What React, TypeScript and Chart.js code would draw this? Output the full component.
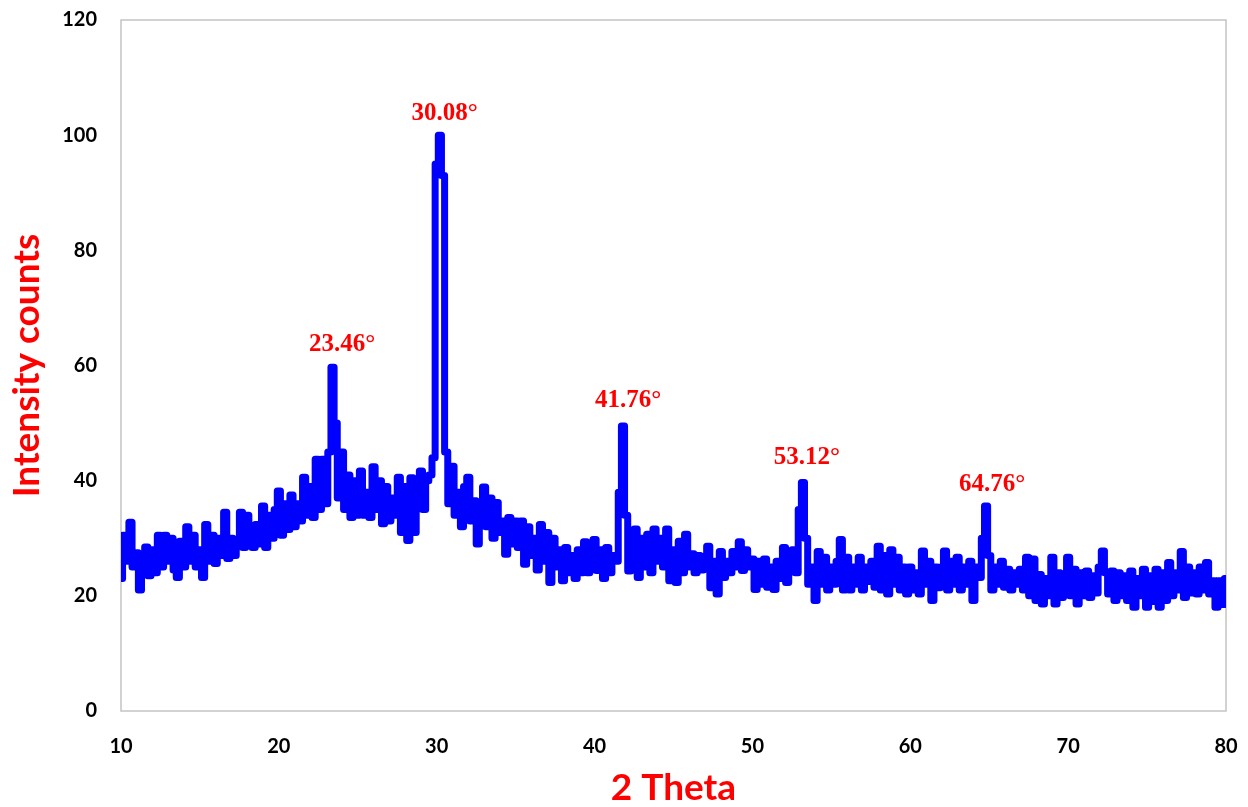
import { useEffect, useRef } from "react";
import { Chart, registerables } from "chart.js";

Chart.register(...registerables);

// 2-theta sampling of the series below
const X_START = 10;
const X_STEP = 0.2;

// Intensity counts, 10.0 .. 19.8
const seg10to20 = [
  23, 30.5, 26, 32.8, 25, 27.5, 21, 26, 28.5, 23.5,
  28, 24, 30.5, 25, 30.5, 26, 30, 24.5, 23.2, 29.5,
  25, 32, 26, 30.5, 25, 28, 23.2, 32.4, 26, 30.5,
  25.6, 30, 27, 34.5, 26.5, 30, 27, 29, 34.5, 28.4,
  34, 29, 28.4, 32.4, 29, 35.6, 28.4, 34, 30, 35,
];
// 20.0 .. 29.8
const seg20to30 = [
  38.2, 30.5, 36, 31.5, 37.5, 32, 36, 33, 40.6, 34,
  39, 33.6, 43.7, 35, 43.7, 36, 45, 59.7, 50, 37,
  45, 35, 41, 33.6, 40, 34, 41.7, 34, 38, 33.6,
  42.4, 35, 40, 32.5, 39, 33, 37, 34, 40.6, 31,
  39, 29.6, 40.5, 31, 37, 41.7, 35, 40, 41, 44,
];
// 30.0 .. 39.8
const seg30to40 = [
  95, 100, 93, 45, 36, 42.5, 34, 38, 32, 39,
  40.6, 33, 36.5, 29, 34, 38.9, 32, 37, 30, 36.2,
  31, 33, 27.2, 33.6, 29, 33, 28.4, 33, 25.5, 32,
  27, 30, 24.5, 32.4, 26, 31, 22.3, 30, 25, 28,
  22.6, 28.4, 24, 27, 23, 28, 24, 29.4, 24, 27,
];
// 40.0 .. 49.8
const seg40to50 = [
  29.8, 24.4, 28, 23, 28.4, 24, 27, 26, 38, 49.5,
  34, 24.3, 28, 31.6, 23.2, 30, 25, 30.7, 24, 31.6,
  26, 30, 25, 31.6, 22.6, 28, 22.3, 29.5, 24, 30.7,
  25, 27.3, 24, 27, 24.5, 26, 28.6, 21.4, 26, 20.3,
  27.7, 23.2, 26, 24, 27.7, 25, 29.4, 24.4, 28, 25,
];
// 50.0 .. 59.8
const seg50to60 = [
  26.4, 21.1, 26, 22, 26.4, 21.5, 25, 21.1, 26, 23,
  28.4, 22.3, 26, 28, 24, 35, 39.7, 30, 22, 25,
  19.2, 27.7, 22, 26.7, 21, 25, 22, 26, 29.8, 21,
  26.7, 21, 25, 22, 26.7, 21, 25, 22.5, 26, 21.5,
  28.6, 21, 27, 20.3, 28, 22, 26.7, 21, 25, 20.3,
];
// 60.0 .. 69.8
const seg60to70 = [
  25, 21, 24, 20.3, 27.8, 22, 26, 19.2, 25, 21.4,
  25, 27.8, 21, 26, 22, 26.7, 21, 25, 22, 26,
  19.2, 25, 23.2, 30, 35.6, 27, 21, 25, 22, 26,
  21.5, 24.6, 21, 24, 22, 24.6, 21, 26.7, 20, 26.4,
  19.2, 23.7, 18.6, 23, 20, 26.7, 18.6, 24, 19.7, 22,
];
// 70.0 .. 80.0
const seg70to80 = [
  26.7, 20, 24.6, 18.6, 24, 20, 24.3, 19.7, 23.5, 20.5,
  25, 27.8, 24, 20.3, 24.3, 19.2, 24, 20, 23.5, 19.2,
  24.3, 18, 23, 20, 24.6, 18, 23.5, 19, 24.6, 18,
  24, 19.2, 25.8, 20, 24, 21, 27.7, 19.7, 25, 20.5,
  24, 20.3, 25, 21, 25.8, 20.3, 22.6, 18, 22.6, 18.5,
  23,
];

const X_MIN = 10;
const X_MAX = 80;
const X_TICK_STEP = 10;
const Y_MIN = 0;
const Y_MAX = 120;
const Y_TICK_STEP = 20;

const PEAK_LABELS = ["23.46°", "30.08°", "41.76°", "53.12°", "64.76°"];
const PEAK_LABEL_X = [24.0, 30.5, 42.12, 53.45, 65.18];
const PEAK_LABEL_Y = [63.7, 103.8, 53.9, 44.0, 39.3];

const X_TITLE = "2 Theta";
const Y_TITLE = "Intensity counts";

export default function App() {
  const canvasRef = useRef<HTMLCanvasElement | null>(null);

  useEffect(() => {
    const canvas = canvasRef.current;
    if (!canvas) return;

    const intensities = [
      ...seg10to20,
      ...seg20to30,
      ...seg30to40,
      ...seg40to50,
      ...seg50to60,
      ...seg60to70,
      ...seg70to80,
    ];
    const points = intensities.map((y, i) => ({
      x: Math.round((X_START + i * X_STEP) * 100) / 100,
      y,
    }));

    const frame = {
      id: "plotFrame",
      beforeDatasetsDraw(chart: any) {
        const { ctx, chartArea } = chart;
        ctx.save();
        ctx.strokeStyle = "#c4c4c4";
        ctx.lineWidth = 1.5;
        ctx.strokeRect(
          chartArea.left,
          chartArea.top,
          chartArea.right - chartArea.left,
          chartArea.bottom - chartArea.top
        );
        ctx.restore();
      },
    };

    const peakLabels = {
      id: "peakLabels",
      afterDatasetsDraw(chart: any) {
        const { ctx } = chart;
        const xs = chart.scales.x;
        const ys = chart.scales.y;
        ctx.save();
        ctx.fillStyle = "#ff0000";
        ctx.font = "bold 25px 'Liberation Serif', 'DejaVu Serif', serif";
        ctx.textAlign = "center";
        ctx.textBaseline = "middle";
        PEAK_LABELS.forEach((t, i) => {
          ctx.fillText(t, xs.getPixelForValue(PEAK_LABEL_X[i]), ys.getPixelForValue(PEAK_LABEL_Y[i]));
        });
        ctx.restore();
      },
    };

    const tickFont = { family: "Lato, 'Liberation Sans', sans-serif", size: 20, weight: "bold" as const };
    const titleFont = { family: "Lato, 'Liberation Sans', sans-serif", size: 37, weight: "bold" as const, lineHeight: 1 };

    const chart = new Chart(canvas, {
      type: "line",
      data: {
        datasets: [
          {
            data: points,
            borderColor: "#0000ff",
            backgroundColor: "#0000ff",
            borderWidth: 7,
            pointRadius: 0,
            stepped: "middle",
            borderJoinStyle: "round",
            borderCapStyle: "round",
            fill: false,
          },
        ],
      },
      options: {
        responsive: false,
        animation: false,
        parsing: false as any,
        normalized: true,
        layout: { padding: { top: 20, right: 22, left: 0, bottom: 0 } },
        plugins: {
          legend: { display: false },
          tooltip: { enabled: false },
        },
        scales: {
          x: {
            type: "linear",
            min: X_MIN,
            max: X_MAX,
            ticks: { stepSize: X_TICK_STEP, color: "#000", font: tickFont, padding: 24 },
            grid: { display: false, drawTicks: false },
            border: { display: false },
            title: { display: true, text: X_TITLE, color: "#ff0000", font: titleFont, padding: 0 },
            afterFit: (s: any) => {
              s.height = 96;
              s.paddingLeft = 0;
              s.paddingRight = 0;
            },
          },
          y: {
            type: "linear",
            min: Y_MIN,
            max: Y_MAX,
            ticks: { stepSize: Y_TICK_STEP, color: "#000", font: tickFont, padding: 24 },
            grid: { display: false, drawTicks: false },
            border: { display: false },
            title: { display: true, text: Y_TITLE, color: "#ff0000", font: titleFont, padding: { top: 9, bottom: 0 } },
            afterFit: (s: any) => {
              s.width = 121;
              s.paddingTop = 0;
              s.paddingBottom = 0;
            },
          },
        },
      },
      plugins: [frame, peakLabels],
    });

    return () => chart.destroy();
  }, []);

  return (
    <div style={{ position: "absolute", left: 0, top: 0, width: 1248, height: 807, background: "#fff" }}>
      <canvas ref={canvasRef} width={1248} height={807} style={{ display: "block" }} />
    </div>
  );
}
